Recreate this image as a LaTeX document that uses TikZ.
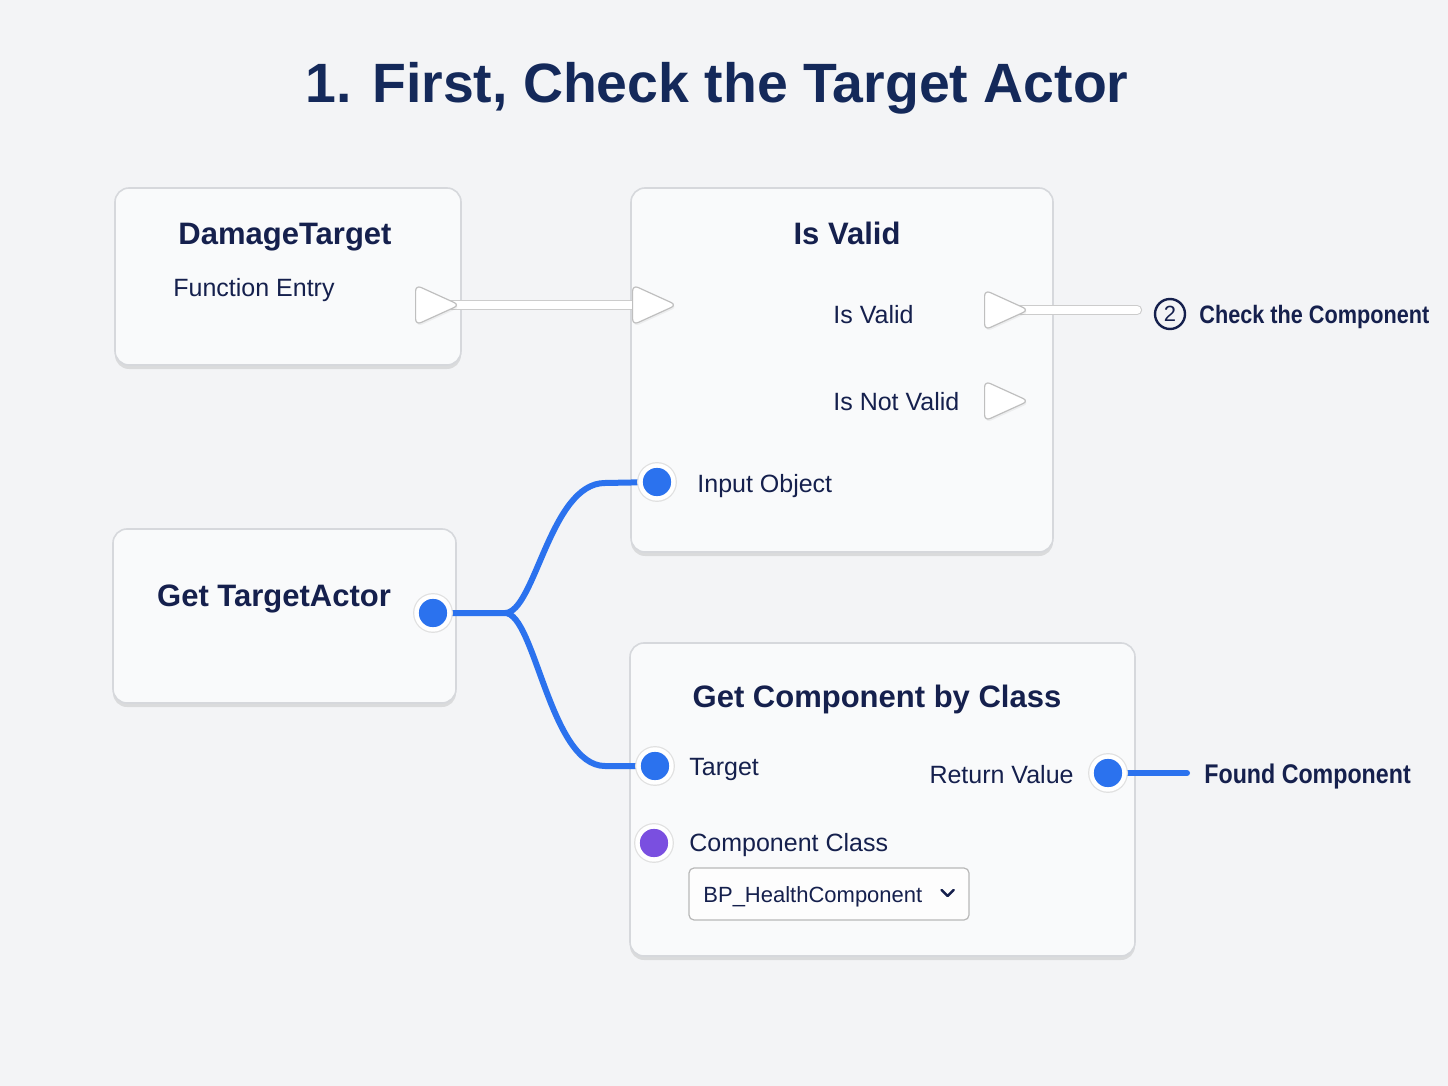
\documentclass[tikz,border=0pt]{standalone}
\usepackage{fontspec}
\setmainfont{Liberation Sans}
\newfontfamily\narrowfont[FakeStretch=0.86]{Liberation Sans}
\usepackage{tikz}
\usetikzlibrary{shapes.geometric,shadows,positioning}
\definecolor{bgcol}{HTML}{F3F4F6}
\definecolor{boxfill}{HTML}{F9FAFB}
\definecolor{boxline}{HTML}{D6D8DC}
\definecolor{navy}{HTML}{15204D}
\definecolor{titlecol}{HTML}{14295A}
\definecolor{pinblue}{HTML}{2B72EE}
\definecolor{pinpurple}{HTML}{7A4FE0}
\pgfdeclarelayer{boxes}
\pgfdeclarelayer{wires}
\pgfsetlayers{boxes,wires,main}

\begin{document}
\begin{tikzpicture}[x=0.5pt, y=-0.5pt,
  nodebox/.style={draw=boxline, line width=0.8pt, rounded corners=7pt,
    fill=boxfill, drop shadow={shadow xshift=0pt, shadow yshift=-2pt,
    opacity=0.10, fill=black}},
  headtxt/.style={anchor=base, inner sep=0pt, text=navy,
    font=\fontsize{15.5}{18}\selectfont\bfseries},
  pintxt/.style={anchor=base west, inner sep=0pt, text=navy,
    font=\fontsize{12.5}{15}\selectfont},
  sidetxt/.style={anchor=base west, inner sep=0pt, text=navy,
    font=\fontsize{13.5}{16}\selectfont\narrowfont\bfseries},
  execpin/.style={isosceles triangle, isosceles triangle stretches,
    anchor=lower side, minimum width=20pt, minimum height=22pt, inner sep=0pt,
    rounded corners=3pt, draw=black!25, line width=0.6pt, fill=white,
    drop shadow={shadow xshift=0.5pt, shadow yshift=-1pt, opacity=0.10}},
  datapin/.style={circle, minimum size=16.5pt, inner sep=0pt, fill=pinblue,
    draw=white, line width=2.2pt,
    preaction={draw=black!12, line width=3.4pt},
    drop shadow={shadow xshift=0.4pt, shadow yshift=-1pt, opacity=0.15}},
  classpin/.style={datapin, fill=pinpurple},
  execwire/.style={draw=black!20, line width=0.6pt, double=white,
    double distance=4pt, line cap=round},
  datawire/.style={draw=pinblue, line width=3pt, line cap=round}
]
\useasboundingbox (0,0) rectangle (1448,1086);
% Boxes
\begin{pgfonlayer}{boxes}
  \fill[bgcol] (0,0) rectangle (1448,1086);
  \node[nodebox, minimum width=173pt, minimum height=88.5pt] (entry) at (288,276.5) {};
  \node[nodebox, minimum width=211pt, minimum height=182pt] (valid) at (842,370) {};
  \node[nodebox, minimum width=171.5pt, minimum height=87pt] (actor) at (284.5,616) {};
  \node[nodebox, minimum width=252.5pt, minimum height=156.5pt] (comp) at (882.5,799.5) {};
\end{pgfonlayer}
% Title
\node[anchor=base, text=titlecol, font=\fontsize{27.7}{33}\selectfont\bfseries]
  (title) at (717,103) {1. First, Check the Target Actor};
% DamageTarget
\node[headtxt] (entryhead) at (285,245) {DamageTarget};
\node[pintxt] (entrysub) at (173,297) {Function Entry};
\node[execpin] (xEntry) at (415,305) {};
% Is Valid
\node[headtxt] (validhead) at (847,245) {Is Valid};
\node[execpin] (xIn) at (632,305) {};
\node[execpin] (xValid) at (984,310) {};
\node[execpin] (xNotValid) at (984,401) {};
\node[pintxt] (lValid) at (833,323) {Is Valid};
\node[pintxt] (lNotValid) at (833,410) {Is Not Valid};
\node[datapin] (pIn) at (657,482) {};
\node[pintxt] (lIn) at (697,492) {Input Object};
% Get TargetActor
\node[headtxt] (actorhead) at (274,606) {Get TargetActor};
\node[datapin] (pActor) at (433,613) {};
% Get Component by Class
\node[headtxt] (comphead) at (877,707) {Get Component by Class};
\node[datapin] (pTarget) at (655,766) {};
\node[pintxt] (lTarget) at (689,775) {Target};
\node[datapin] (pRet) at (1108,773) {};
\node[pintxt, anchor=base east] (lRet) at (1074,783) {Return Value};
\node[classpin] (pClass) at (654,843) {};
\node[pintxt] (lClass) at (689,851) {Component Class};
\node[draw=black!28, line width=0.6pt, fill=white!60!boxfill, rounded corners=2.5pt,
  minimum width=140pt, minimum height=26pt] (drop) at (829,894) {};
\node[pintxt, font=\fontsize{11}{13}\selectfont] (lDrop) at (703,902) {BP\_HealthComponent};
\draw[navy, line width=1.3pt, line cap=round, line join=round]
  ([xshift=-14pt,yshift=2pt]drop.east) -- ([xshift=-11pt,yshift=-1pt]drop.east)
  -- ([xshift=-8pt,yshift=2pt]drop.east);
% Side labels
\coordinate (validEnd) at (1137,310);
\node[circle, draw=navy, line width=1.2pt, minimum size=15pt, inner sep=0pt,
  text=navy, font=\fontsize{11}{13}\selectfont] (num2) at (1170,314) {2};
\node[sidetxt, font=\fontsize{12.6}{15}\selectfont\narrowfont\bfseries]
  (lCheck) at (1199,323) {Check the Component};
\coordinate (foundEnd) at (1187,773);
\node[sidetxt] (lFound) at (1204,783) {Found Component};
% Wires
\begin{pgfonlayer}{wires}
  \draw[execwire] (xEntry.center) -- (xIn.center);
  \draw[execwire] (xValid.center) -- (validEnd);
  \coordinate (split) at (505,613);
  \draw[datawire] (pActor.center) -- (split)
    .. controls (535,613) and (550,483) .. (605,483) -- (pIn.center);
  \draw[datawire] (split)
    .. controls (535,613) and (550,766) .. (605,766) -- (pTarget.center);
  \draw[datawire] (pRet.center) -- (foundEnd);
\end{pgfonlayer}
\end{tikzpicture}
\end{document}
